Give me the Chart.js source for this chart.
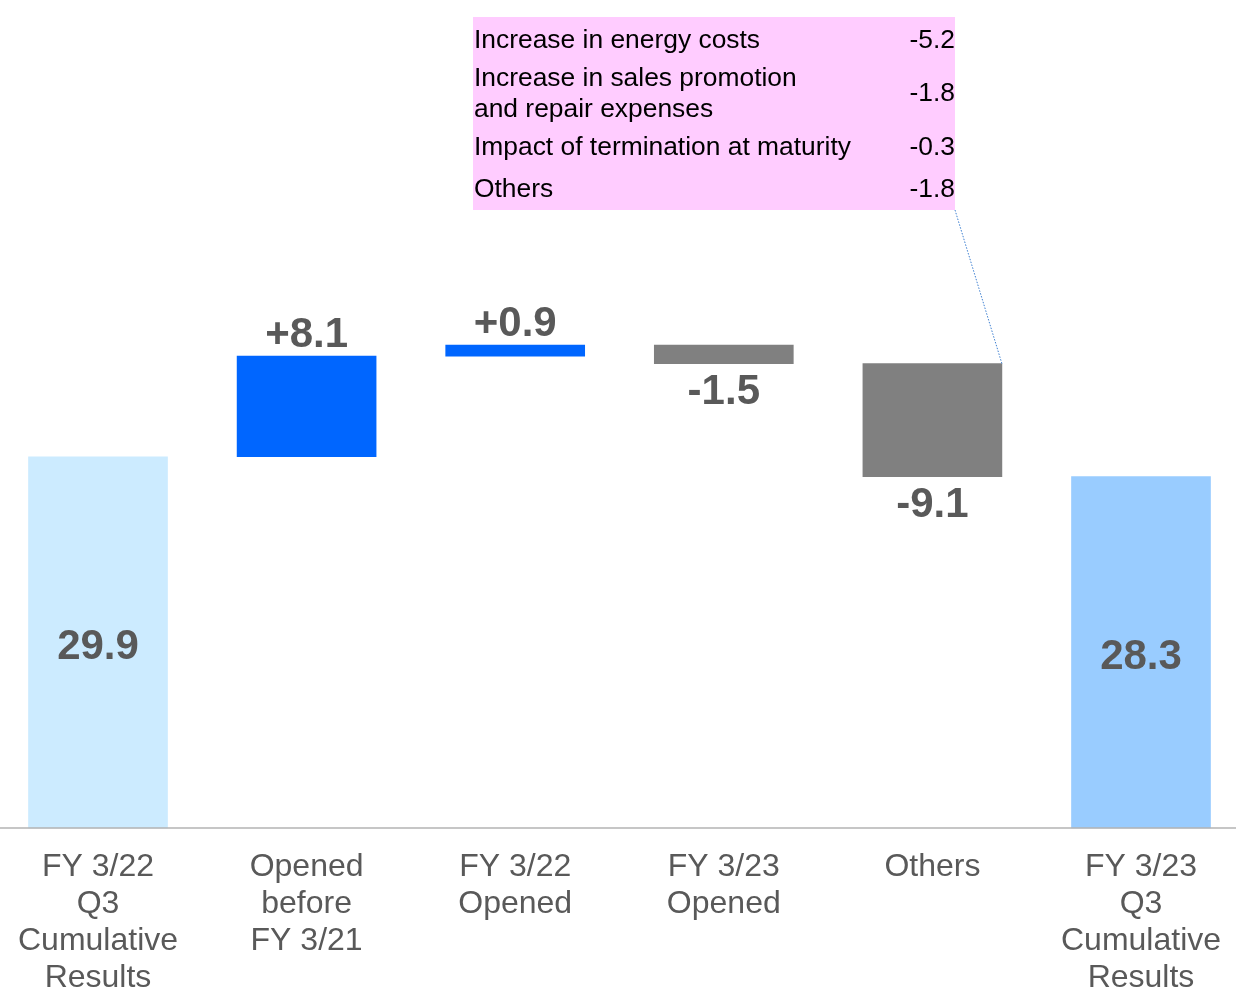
<!DOCTYPE html>
<html>
<head>
<meta charset="utf-8">
<script src="https://cdn.jsdelivr.net/npm/chart.js@4/dist/chart.umd.min.js"></script>
<style>
  html, body { margin: 0; padding: 0; background: #ffffff; }
  #wrap { width: 1236px; height: 990px; }
</style>
</head>
<body>
<div id="wrap"><canvas id="c" width="1236" height="990"></canvas></div>
<script>
// ---- data ----
const categories = [
  ['FY 3/22', 'Q3', 'Cumulative', 'Results'],
  ['Opened', 'before', 'FY 3/21'],
  ['FY 3/22', 'Opened'],
  ['FY 3/23', 'Opened'],
  ['Others'],
  ['FY 3/23', 'Q3', 'Cumulative', 'Results']
];
const values = [29.9, 8.1, 0.9, -1.5, -9.1, 28.3];
const barKinds = ['total', 'delta', 'delta', 'delta', 'delta', 'total'];
const valueLabels = ['29.9', '+8.1', '+0.9', '-1.5', '-9.1', '28.3'];
const barColors = ['#CCEBFF', '#0066FF', '#0066FF', '#808080', '#808080', '#99CCFF'];

const breakdownItems = [
  ['Increase in energy costs'],
  ['Increase in sales promotion', 'and repair expenses'],
  ['Impact of termination at maturity'],
  ['Others']
];
const breakdownValues = ['-5.2', '-1.8', '-0.3', '-1.8'];
const breakdownTarget = 4; // index of bar the callout refers to

// ---- build floating ranges ----
let running = 0;
const ranges = values.map((v, i) => {
  if (barKinds[i] === 'total') { running = v; return [0, v]; }
  const r = [running, running + v];
  running += v;
  return r;
});

const FONT = "'Liberation Sans', Arial, 'DejaVu Sans', sans-serif";

const overlay = {
  id: 'overlay',
  afterDraw(chart) {
    const ctx = chart.ctx;
    const y0 = chart.scales.y.getPixelForValue(0);
    // baseline
    ctx.save();
    ctx.strokeStyle = '#b3b3b3';
    ctx.lineWidth = 1.5;
    ctx.beginPath();
    ctx.moveTo(0, y0);
    ctx.lineTo(chart.width, y0);
    ctx.stroke();

    // value labels
    const meta = chart.getDatasetMeta(0);
    ctx.fillStyle = '#595959';
    ctx.font = 'bold 42px ' + FONT;
    ctx.textAlign = 'center';
    ctx.textBaseline = 'middle';
    meta.data.forEach((bar, i) => {
      const top = Math.min(bar.y, bar.base);
      const bottom = Math.max(bar.y, bar.base);
      let ty;
      if (barKinds[i] === 'total') ty = (top + bottom) / 2 + 5;
      else if (values[i] >= 0) ty = top - 21;
      else ty = bottom + 29;
      ctx.fillText(valueLabels[i], bar.x, ty);
    });

    // callout box
    const bx = 473, by = 17, bw = 482, bh = 193;
    ctx.fillStyle = '#FFCCFF';
    ctx.fillRect(bx, by, bw, bh);
    ctx.fillStyle = '#000000';
    ctx.font = '26.4px ' + FONT;
    ctx.textBaseline = 'middle';
    const rowCenters = [41, 94, 148, 190];
    const lineH = 31;
    breakdownItems.forEach((lines, i) => {
      const c = rowCenters[i];
      const startY = c - (lines.length - 1) * lineH / 2;
      ctx.textAlign = 'left';
      lines.forEach((t, j) => ctx.fillText(t, bx + 1, startY + j * lineH));
      ctx.textAlign = 'right';
      ctx.fillText(breakdownValues[i], bx + bw, c);
    });

    // dotted connector to target bar
    const tb = meta.data[breakdownTarget];
    const tx = tb.x + tb.width / 2;
    const tyTop = Math.min(tb.y, tb.base);
    ctx.strokeStyle = '#3d7fd0';
    ctx.lineWidth = 1;
    ctx.setLineDash([1.5, 1.5]);
    ctx.beginPath();
    ctx.moveTo(bx + bw, by + bh);
    ctx.lineTo(tx, tyTop);
    ctx.stroke();
    ctx.restore();
  }
};

new Chart(document.getElementById('c'), {
  type: 'bar',
  data: {
    labels: categories,
    datasets: [{
      data: ranges,
      backgroundColor: barColors,
      borderWidth: 0,
      barThickness: 139,
      clip: false
    }]
  },
  options: {
    responsive: false,
    animation: false,
    events: [],
    layout: { padding: { top: 83, left: 98, right: 95, bottom: 0 } },
    plugins: { legend: { display: false }, tooltip: { enabled: false } },
    scales: {
      x: {
        offset: false,
        grid: { display: false },
        border: { display: false },
        ticks: {
          autoSkip: false,
          maxRotation: 0,
          minRotation: 0,
          padding: 13,
          color: '#595959',
          font: { family: FONT, size: 32, lineHeight: '37px' }
        },
        afterFit: (s) => { s.height = 162; }
      },
      y: {
        display: false,
        min: 0,
        max: 60
      }
    }
  },
  plugins: [overlay]
});
</script>
</body>
</html>
